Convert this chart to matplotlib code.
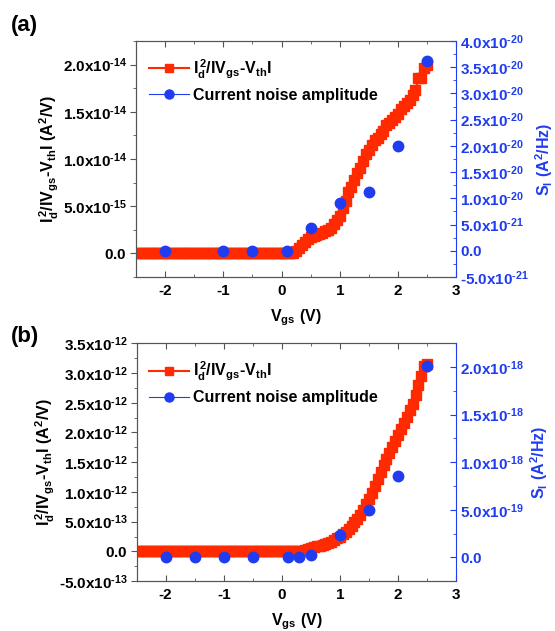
import numpy as np
import matplotlib
matplotlib.use("Agg")
import matplotlib.pyplot as plt
from matplotlib.ticker import MultipleLocator, FuncFormatter
from matplotlib.lines import Line2D

plt.rcParams['font.family'] = ['Liberation Sans', 'DejaVu Sans']
plt.rcParams['font.weight'] = 'bold'
plt.rcParams['axes.unicode_minus'] = False
plt.rcParams['mathtext.fontset'] = 'custom'
plt.rcParams['mathtext.rm'] = 'Liberation Sans:bold'
plt.rcParams['mathtext.it'] = 'Liberation Sans:bold'
plt.rcParams['mathtext.bf'] = 'Liberation Sans:bold'
plt.rcParams['mathtext.default'] = 'rm'

RED = '#ff2a00'
BLUE = '#1f3cf0'
FRAME = '#555555'

# gate voltage grid of the dense (red) curves, V
vgs_curve = np.round(np.arange(-2.5, 2.501, 0.05), 2)

# (a) Id^2/|Vgs-Vth|, A^2/V (flat zero up to 0.15 V)
curve_a = [0.0] * 54 + [
    0.0, 0.3, 0.6, 0.9, 1.2, 1.5, 1.7, 1.85, 2.0, 2.1,
    2.2, 2.35, 2.45, 2.7, 3.1, 3.5, 4.0, 4.8, 5.6, 6.5,
    7.0, 7.8, 8.5, 9.0, 9.8, 10.5, 11.0, 11.5, 12.0, 12.2,
    12.6, 13.0, 13.6, 13.8, 14.1, 14.5, 14.8, 15.3, 15.6, 15.9,
    16.3, 16.8, 17.3, 18.6, 18.6, 19.6, 20.0]
curve_a = np.array(curve_a) * 1e-15

# (b) Id^2/|Vgs-Vth|, A^2/V (flat zero up to 0.25 V)
curve_b = [0.0] * 56 + [
    0.05, 0.15, 0.3, 0.45, 0.6, 0.72, 0.85, 0.97, 1.1, 1.25,
    1.45, 1.65, 1.9, 2.2, 2.5, 2.9, 3.3, 3.8, 4.3, 4.9,
    5.5, 6.2, 7.0, 7.9, 8.8, 9.9, 11.0, 12.2, 13.4, 14.5,
    15.6, 16.6, 17.6, 18.6, 19.6, 20.6, 21.6, 22.6, 23.7, 24.8,
    26.3, 28.0, 29.5, 31.2, 31.5]
curve_b = np.array(curve_b) * 1e-13

# current noise amplitude S_I, A^2/Hz
vgs_noise_a = [-2.0, -1.0, -0.5, 0.1, 0.5, 1.0, 1.5, 2.0, 2.5]
noise_a = [0.0, 0.0, 0.0, 0.0, 4.3e-21, 9.2e-21, 1.12e-20, 2.0e-20, 3.62e-20]

vgs_noise_b = [-2.0, -1.5, -1.0, -0.5, 0.1, 0.3, 0.5, 1.0, 1.5, 2.0, 2.5]
noise_b = [0.0, 0.0, 0.0, 0.0, 0.0, 0.0, 2e-20, 2.4e-19, 5.0e-19, 8.6e-19, 2.01e-18]

HY = r"\text{-}"
lab_curve = r"$I_d^{\,2}/IV_{gs}" + HY + r"V_{th}I$"
lab_noise = "Current noise amplitude"


def sci(v, pos):
    if abs(v) < 1e-30:
        return r"$0.0$"
    e = int(np.floor(np.log10(abs(v)) + 1e-9))
    m = v / 10.0 ** e
    s = rf"{m:.1f}x10^{{{e}}}".replace("-", HY)
    return "$" + s + "$"


def panel(rect, x, y, xn, yn, ylim_l, step_l, ylim_r, step_r, tag, tag_y):
    ax = fig.add_axes(rect)
    ax2 = ax.twinx()

    ax.plot(x, y, '-s', color=RED, ms=7, lw=1.5, mec=RED, clip_on=True)
    ax2.plot(xn, yn, 'o', color=BLUE, ms=7.5, mec=BLUE, zorder=5)

    ax.set_xlim(-2.5, 3)
    ax.set_ylim(*ylim_l)
    ax2.set_ylim(*ylim_r)
    ax.xaxis.set_major_locator(MultipleLocator(1))
    ax.xaxis.set_minor_locator(MultipleLocator(0.5))
    ax.yaxis.set_major_locator(MultipleLocator(step_l))
    ax.yaxis.set_minor_locator(MultipleLocator(step_l / 2))
    ax2.yaxis.set_major_locator(MultipleLocator(step_r))
    ax2.yaxis.set_minor_locator(MultipleLocator(step_r / 2))
    ax.yaxis.set_major_formatter(FuncFormatter(sci))
    ax2.yaxis.set_major_formatter(FuncFormatter(sci))

    ax.tick_params(axis='x', which='both', direction='in', top=True,
                   labelsize=11, colors='black', pad=5)
    ax.tick_params(axis='x', which='major', length=4, color=FRAME)
    ax.tick_params(axis='x', which='minor', length=2.5, color=FRAME)
    ax.tick_params(axis='y', which='both', direction='out', labelsize=11,
                   color=FRAME, pad=2.5)
    ax.tick_params(axis='y', which='major', length=4)
    ax.tick_params(axis='y', which='minor', length=2.5)
    ax2.tick_params(axis='y', which='both', direction='in', labelsize=11,
                    color=BLUE, labelcolor=BLUE, pad=3)
    ax2.tick_params(axis='y', which='major', length=4)
    ax2.tick_params(axis='y', which='minor', length=2.5)

    for s in ['left', 'top', 'bottom']:
        ax.spines[s].set_color(FRAME)
        ax2.spines[s].set_color(FRAME)
    ax2.spines['right'].set_color(BLUE)
    ax.spines['right'].set_visible(False)

    ax.set_xlabel(r"$V_{gs}\ (V)$", fontsize=11.5, labelpad=7)
    ax.set_ylabel(lab_curve[:-1] + r"\ (A^2/V)$", fontsize=11.5, labelpad=1)
    ax2.set_ylabel(r"$S_I\ (A^2/Hz)$", fontsize=11.5, color=BLUE, labelpad=3)

    handles = [Line2D([], [], color=RED, marker='s', ms=6, lw=1.5),
               Line2D([], [], color=BLUE, marker='o', ms=6.5, lw=0.8)]
    ax2.legend(handles, [lab_curve, lab_noise], loc='upper left',
               bbox_to_anchor=(0.0, 0.985), frameon=False, fontsize=11.5,
               handlelength=2.5, handletextpad=0.25, labelspacing=0.45,
               borderaxespad=0.4)

    fig.text(0.02, tag_y, tag, fontsize=16, fontweight='bold', va='top')
    return ax, ax2


fig = plt.figure(figsize=(5.55, 6.31), dpi=100)

panel([0.245, 0.561, 0.577, 0.374], vgs_curve, curve_a, vgs_noise_a, noise_a,
      (-2.5e-15, 2.25e-14), 5e-15, (-5e-21, 4e-20), 5e-21, "(a)", 0.977)
panel([0.246, 0.079, 0.576, 0.377], vgs_curve, curve_b, vgs_noise_b, noise_b,
      (-5e-13, 3.5e-12), 5e-13, (-2.5e-19, 2.25e-18), 5e-19, "(b)", 0.483)

fig.savefig("out.png", dpi=100)
